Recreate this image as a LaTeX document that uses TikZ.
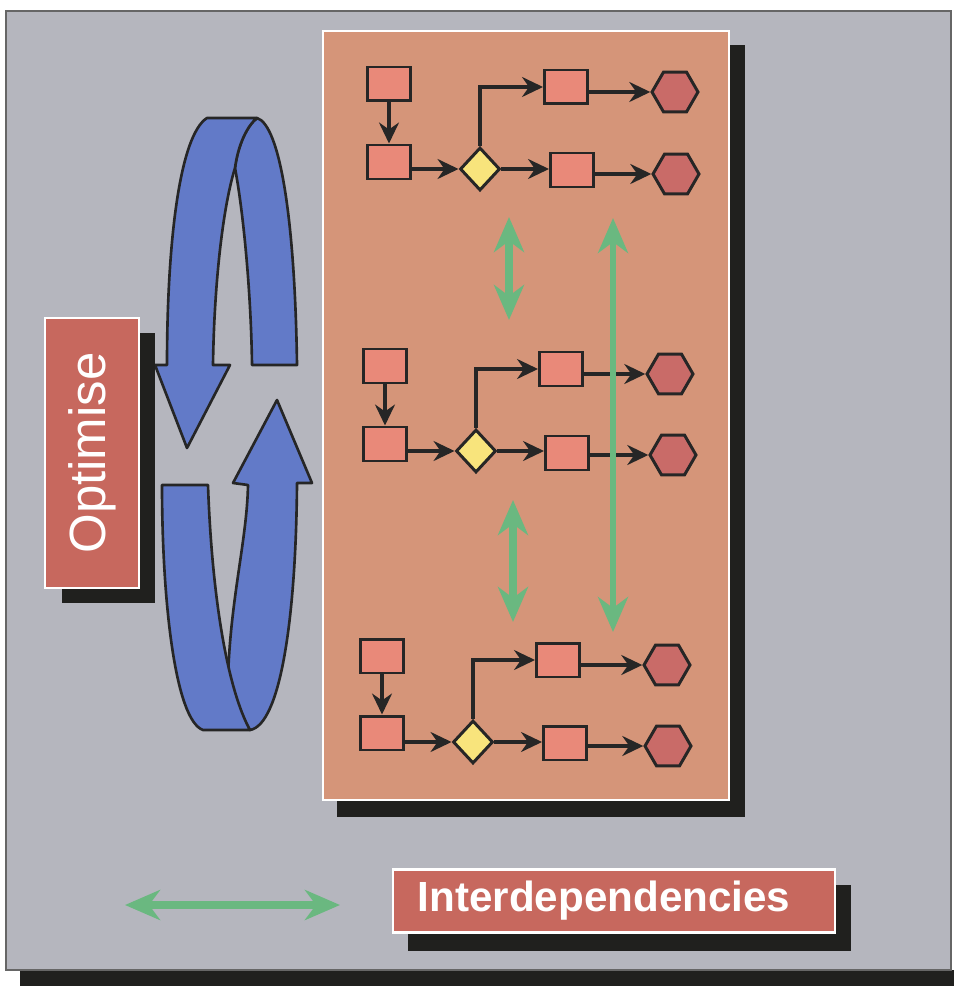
\documentclass[tikz,border=0pt]{standalone}
\usepackage{fontspec}
\setmainfont{Liberation Sans}
\usetikzlibrary{shapes.geometric, arrows.meta}
\definecolor{bggray}{RGB}{181,182,190}
\definecolor{panelsalmon}{RGB}{213,149,121}
\definecolor{boxpink}{RGB}{233,137,121}
\definecolor{hexred}{RGB}{201,107,104}
\definecolor{dyellow}{RGB}{248,228,124}
\definecolor{tagred}{RGB}{199,104,94}
\definecolor{loopblue}{RGB}{98,122,200}
\definecolor{linkgreen}{RGB}{106,184,128}
\definecolor{darkshadow}{RGB}{32,32,30}
\tikzset{
    flowbox/.style = {rectangle, draw=black!85, line width=1.7pt, fill=boxpink, minimum width=0.86cm, minimum height=0.68cm, inner sep=0pt},
    endhex/.style = {regular polygon, regular polygon sides=6, draw=black!85, line width=1.7pt, fill=hexred, minimum size=0.92cm, inner sep=0pt},
    choice/.style = {diamond, draw=black!85, line width=1.7pt, fill=dyellow, minimum width=0.8cm, minimum height=0.86cm, inner sep=0pt},
    flow/.style = {draw=black!85, line width=1.8pt, -{Stealth[length=4.2mm, width=4mm, inset=1.4mm]}},
    link/.style = {draw=linkgreen, line width=4pt, {Stealth[length=7mm, width=6mm, inset=2.2mm]}-{Stealth[length=7mm, width=6mm, inset=2.2mm]}},
    tag/.style = {rectangle, fill=tagred, draw=white, line width=1.2pt, text=white, inner sep=0pt},
    loop/.style = {fill=loopblue, draw=black!85, line width=1.5pt, line join=round}
}

\begin{document}
\begin{tikzpicture}[x=0.02cm, y=-0.02cm]
	\useasboundingbox (0,0) rectangle (954,986);
	% frame
	\fill[darkshadow] (20,970) rectangle (954,986);
	\filldraw[fill=bggray, draw=black!60, line width=1pt] (6,11) rectangle (951,970);

	% turning loops
	\filldraw[loop] (252,365) -- (297,365) .. controls (295,220) and (280,125) .. (257,118)
		.. controls (247,126) and (238,145) .. (235,168) .. controls (243,210) and (251,290) .. (252,365) -- cycle;
	\filldraw[loop] (187,448) -- (230,365) -- (213,365) .. controls (214,290) and (222,210) .. (235,168)
		.. controls (238,145) and (247,126) .. (257,118) -- (207,118) .. controls (180,135) and (167,240) .. (167,365)
		-- (155,365) -- cycle;
	\filldraw[loop] (277,400) -- (312,483) -- (297,483) .. controls (296,620) and (280,725) .. (250,730)
		.. controls (238,720) and (228,700) .. (228,680) .. controls (230,600) and (247,540) .. (248,485)
		-- (233,483) -- cycle;
	\filldraw[loop] (162,485) -- (208,485) .. controls (212,600) and (228,690) .. (250,730)
		-- (203,730) .. controls (175,720) and (162,600) .. (162,485) -- cycle;

	% labels
	\fill[darkshadow] (62,333) rectangle (155,603);
	\node[tag, rotate=90, minimum width=5.4cm, minimum height=1.88cm, font=\fontsize{29}{30}\selectfont] (opt) at (92,453) {Optimise};
	\fill[darkshadow] (408,885) rectangle (851,951);
	\node[tag, minimum width=8.84cm, minimum height=1.26cm, font=\fontsize{24}{26}\selectfont\bfseries] (inter) at (614,901) {Interdependencies\hspace*{0.4cm}};

	% panel
	\fill[darkshadow] (337,45) rectangle (745,817);
	\filldraw[fill=panelsalmon, draw=white, line width=1.2pt] (323,31) rectangle (729,800);

	% first process
	\node[flowbox] (src1) at (389,84) {};
	\node[flowbox] (in1) at (389,162) {};
	\node[choice] (dia1) at (480,169) {};
	\node[flowbox] (up1) at (566,87) {};
	\node[flowbox] (low1) at (572,170) {};
	\node[endhex] (hexu1) at (675,92) {};
	\node[endhex] (hexl1) at (676,174) {};

	% second process
	\node[flowbox] (src2) at (385,366) {};
	\node[flowbox] (in2) at (385,444) {};
	\node[choice] (dia2) at (476,451) {};
	\node[flowbox] (up2) at (561,369) {};
	\node[flowbox] (low2) at (567,453) {};
	\node[endhex] (hexu2) at (670,374) {};
	\node[endhex] (hexl2) at (673,455) {};

	% third process
	\node[flowbox] (src3) at (382,656) {};
	\node[flowbox] (in3) at (382,733) {};
	\node[choice] (dia3) at (473,742) {};
	\node[flowbox] (up3) at (558,660) {};
	\node[flowbox] (low3) at (565,743) {};
	\node[endhex] (hexu3) at (667,665) {};
	\node[endhex] (hexl3) at (668,746) {};

	\draw[flow] (src1) -- (in1);
	\draw[flow] (dia1.west -| in1.east) -- (dia1.west);
	\draw[flow] (dia1.north) |- (up1.west);
	\draw[flow] (dia1.east) -- (dia1.east -| low1.west);
	\draw[flow] (hexu1.west -| up1.east) -- (hexu1.west);
	\draw[flow] (hexl1.west -| low1.east) -- (hexl1.west);

	\draw[flow] (src2) -- (in2);
	\draw[flow] (dia2.west -| in2.east) -- (dia2.west);
	\draw[flow] (dia2.north) |- (up2.west);
	\draw[flow] (dia2.east) -- (dia2.east -| low2.west);
	\draw[flow] (hexu2.west -| up2.east) -- (hexu2.west);
	\draw[flow] (hexl2.west -| low2.east) -- (hexl2.west);

	\draw[flow] (src3) -- (in3);
	\draw[flow] (dia3.west -| in3.east) -- (dia3.west);
	\draw[flow] (dia3.north) |- (up3.west);
	\draw[flow] (dia3.east) -- (dia3.east -| low3.west);
	\draw[flow] (hexu3.west -| up3.east) -- (hexu3.west);
	\draw[flow] (hexl3.west -| low3.east) -- (hexl3.west);

	% interdependencies
	\coordinate (ga1) at (509,217);
	\coordinate (gb1) at (509,320);
	\coordinate (ga2) at (513,500);
	\coordinate (gb2) at (513,622);
	\coordinate (ga3) at (613,218);
	\coordinate (gb3) at (613,632);
	\coordinate (gl) at (125,905);
	\coordinate (gr) at (340,905);
	\draw[link] (ga1) -- (gb1);
	\draw[link] (ga2) -- (gb2);
	\draw[link, line width=3.2pt] (ga3) -- (gb3);
	\draw[link] (gl) -- (gr);
\end{tikzpicture}
\end{document}
